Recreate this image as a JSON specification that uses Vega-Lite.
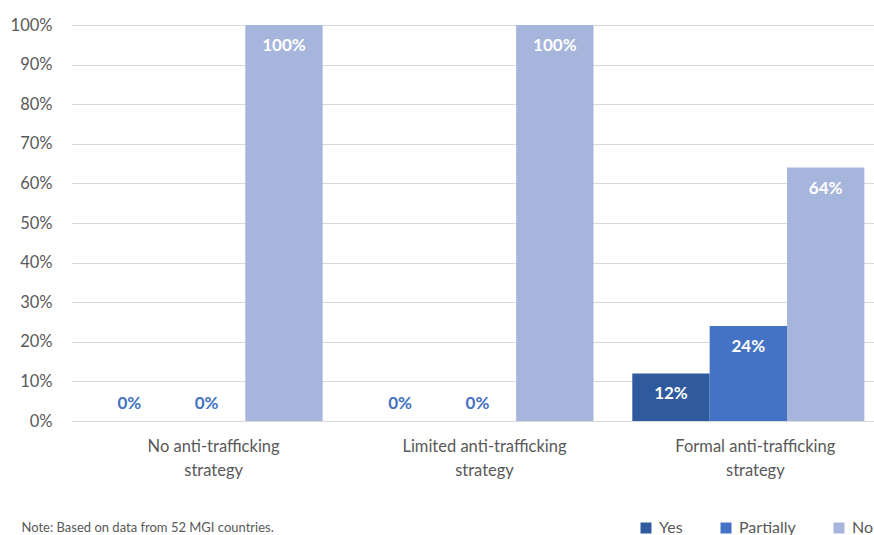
{
  "$schema": "https://vega.github.io/schema/vega-lite/v6.json",
  "width": 803,
  "height": 396,
  "autosize": {"type": "none"},
  "padding": {"left": 71, "top": 25, "right": 0, "bottom": 114},
  "background": "white",
  "config": {
    "font": "Lato",
    "view": {"stroke": null}
  },
  "data": {
    "values": [
      {"strategy": "No anti-trafficking strategy", "answer": "Yes", "value": 0},
      {"strategy": "No anti-trafficking strategy", "answer": "Partially", "value": 0},
      {"strategy": "No anti-trafficking strategy", "answer": "No", "value": 1.0},
      {"strategy": "Limited anti-trafficking strategy", "answer": "Yes", "value": 0},
      {"strategy": "Limited anti-trafficking strategy", "answer": "Partially", "value": 0},
      {"strategy": "Limited anti-trafficking strategy", "answer": "No", "value": 1.0},
      {"strategy": "Formal anti-trafficking strategy", "answer": "Yes", "value": 0.12},
      {"strategy": "Formal anti-trafficking strategy", "answer": "Partially", "value": 0.24},
      {"strategy": "Formal anti-trafficking strategy", "answer": "No", "value": 0.64}
    ]
  },
  "encoding": {
    "x": {
      "field": "strategy",
      "type": "nominal",
      "sort": ["No anti-trafficking strategy", "Limited anti-trafficking strategy", "Formal anti-trafficking strategy"],
      "scale": {"paddingInner": 0.1433, "paddingOuter": 0.054, "align": 0.67},
      "axis": {
        "title": "Note: Based on data from 52 MGI countries.",
        "titleAnchor": "start",
        "titleAlign": "left",
        "titleBaseline": "middle",
        "titleX": -50,
        "titleY": 106,
        "titleFontSize": 13,
        "titleFontWeight": "normal",
        "titleColor": "#595959",
        "labelAngle": 0,
        "domain": false,
        "ticks": false,
        "labelExpr": "[replace(datum.label, ' strategy', ''), 'strategy']",
        "labelFontSize": 16.5,
        "labelColor": "#595959",
        "labelPadding": 17,
        "labelLineHeight": 24,
        "labelOffset": 7
      }
    },
    "xOffset": {
      "field": "answer",
      "type": "nominal",
      "sort": ["Yes", "Partially", "No"],
      "scale": {"paddingInner": 0, "paddingOuter": 0}
    },
    "y": {
      "field": "value",
      "type": "quantitative",
      "scale": {"domain": [0, 1]},
      "axis": {
        "title": null,
        "format": ".0%",
        "values": [0, 0.1, 0.2, 0.3, 0.4, 0.5, 0.6, 0.7, 0.8, 0.9, 1.0],
        "labelOverlap": false,
        "domain": false,
        "ticks": false,
        "labelFontSize": 16.5,
        "labelColor": "#595959",
        "labelPadding": 19,
        "gridColor": "#d9d9d9",
        "gridWidth": 1
      }
    }
  },
  "layer": [
    {
      "mark": {"type": "bar"},
      "encoding": {
        "color": {
          "field": "answer",
          "type": "nominal",
          "sort": ["Yes", "Partially", "No"],
          "scale": {"domain": ["Yes", "Partially", "No"], "range": ["#2F5A9E", "#4472C4", "#A6B5DB"]},
          "legend": {
            "title": null,
            "orient": "none",
            "direction": "horizontal",
            "legendX": 567,
            "legendY": 495,
            "symbolType": "square",
            "symbolSize": 121,
            "symbolStrokeWidth": 0,
            "labelFontSize": 16,
            "labelColor": "#595959",
            "labelOffset": 5,
            "gridAlign": "each",
            "columnPadding": 35
          }
        }
      }
    },
    {
      "transform": [{"filter": "datum.value > 0"}],
      "mark": {"type": "text", "dy": 21, "fontSize": 17, "fontWeight": "bold", "color": "white"},
      "encoding": {
        "text": {"field": "value", "type": "quantitative", "format": ".0%"}
      }
    },
    {
      "transform": [{"filter": "datum.value == 0"}],
      "mark": {"type": "text", "dy": -17, "fontSize": 17, "fontWeight": "bold", "color": "#4472C4"},
      "encoding": {
        "text": {"field": "value", "type": "quantitative", "format": ".0%"}
      }
    }
  ]
}
